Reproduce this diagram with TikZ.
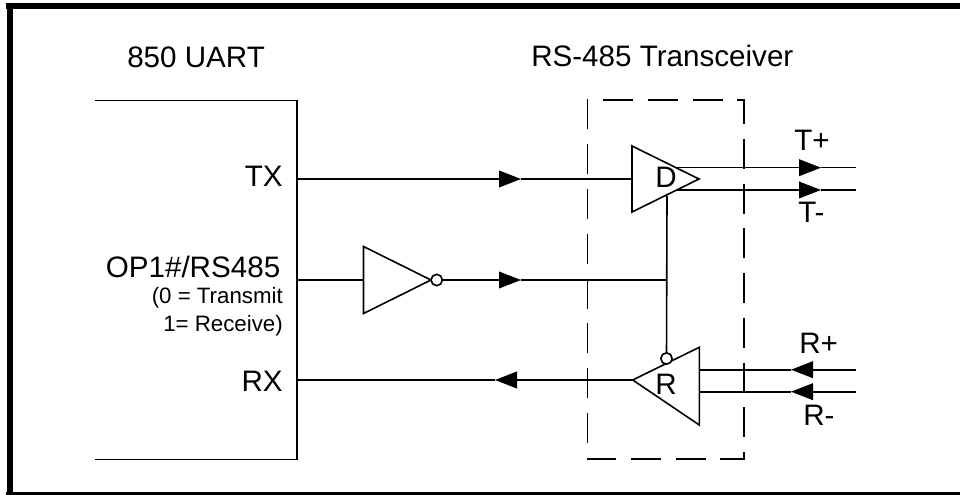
\documentclass[tikz,border=0pt]{standalone}
\usepackage{fontspec}
\setmainfont{Liberation Sans}
\usetikzlibrary{arrows.meta}
\tikzset{
  wire/.style={line width=1.2pt,black,line cap=butt},
  flow/.style={wire,-{Triangle[length=16.5pt,width=12.5pt,fill=black]}},
  gate/.style={wire,line join=miter,fill=white},
  bubble/.style={wire,fill=white,draw,circle,minimum size=8.5pt,inner sep=0pt},
  dashbox/.style={line width=1.2pt,black,dash pattern=on 22.5pt off 11.09pt},
  bigtext/.style={inner sep=0pt,font=\fontsize{22.2pt}{24pt}\selectfont},
  smalltext/.style={inner sep=0pt,font=\fontsize{16.7pt}{19pt}\selectfont}
}
\begin{document}
\begin{tikzpicture}[x=0.75pt,y=-0.75pt]
\useasboundingbox (0,0) rectangle (960,495);
\fill[white] (0,0) rectangle (960,495);
% outer frame
\fill[black] (6,3) rectangle (960,8.8);
\fill[black] (7.3,3) rectangle (12.8,495);
\fill[black] (6,492) rectangle (960,495);
% titles
\node[bigtext,anchor=base west] (titleU) at (127,68) {850 UART};
\node[bigtext,anchor=base west] (titleR) at (531,67) {RS-485 Transceiver};
% UART box
\coordinate (uTL) at (95,100.5);
\coordinate (uTR) at (297,100.5);
\coordinate (uBR) at (297,459.5);
\coordinate (uBL) at (95,459.5);
\draw[wire] (uTL) -- (uTR) -- (uBR) -- (uBL);
% pin labels
\node[bigtext,anchor=base east] (lTX) at (283,187) {TX};
\node[bigtext,anchor=base east] (lOP) at (280.5,278) {OP1\#/RS485};
\node[smalltext,anchor=base east] (lT) at (283,304) {(0 = Transmit};
\node[smalltext,anchor=base east] (lRc) at (283,331) {1= Receive)};
\node[bigtext,anchor=base east] (lRX) at (283,391) {RX};
% ports
\coordinate (txOut) at (297,179);
\coordinate (dIn) at (632,179);
\coordinate (txTip) at (521,179);
\coordinate (opOut) at (297,280);
\coordinate (invIn) at (363.5,280);
\coordinate (invB) at (436.7,280);
\coordinate (opTip) at (521,280);
\coordinate (junc) at (667,280);
\coordinate (dBot) at (667,196);
\coordinate (rB) at (666.5,358.5);
\coordinate (rxIn) at (297,380);
\coordinate (rApex) at (632.7,380);
\coordinate (rxTip) at (495,380);
\coordinate (tpA) at (677,167.7);
\coordinate (tpTip) at (821,167.7);
\coordinate (tpEnd) at (856,167.7);
\coordinate (tmA) at (677,190);
\coordinate (tmTip) at (821,190);
\coordinate (tmEnd) at (856,190);
\coordinate (rpA) at (699.3,369.7);
\coordinate (rpTip) at (791,369.7);
\coordinate (rpEnd) at (856,369.7);
\coordinate (rmA) at (699.3,391.7);
\coordinate (rmTip) at (791,391.7);
\coordinate (rmEnd) at (856,391.7);
% dashed transceiver box
\draw[dashbox] (603,100.3) -- (743.7,100.3) -- (743.7,459) -- (587.3,459) -- (587.3,100.3) -- (603,100.3);
% connectors
\draw[flow] (txOut) -- (txTip);
\draw[wire] (txTip) -- (dIn);
\draw[wire] (opOut) -- (invIn);
\draw[flow] (invB) -- (opTip);
\draw[wire] (opTip) -- (junc);
\draw[wire] (dBot) -- (rB);
\draw[flow] (rApex) -- (rxTip);
\draw[wire] (rxTip) -- (rxIn);
\draw[flow] (tpA) -- (tpTip);
\draw[wire] (tpTip) -- (tpEnd);
\draw[flow] (tmA) -- (tmTip);
\draw[wire] (tmTip) -- (tmEnd);
\draw[flow] (rpEnd) -- (rpTip);
\draw[wire] (rpTip) -- (rpA);
\draw[flow] (rmEnd) -- (rmTip);
\draw[wire] (rmTip) -- (rmA);
% gates
\draw[gate] (363.5,246.5) -- (431,280) -- (363.5,313.5) -- cycle;
\node[bubble] (invBub) at (invB) {};
\draw[wire,line join=miter] (632,146) -- (699,179) -- (632,212) -- cycle;
\draw[wire,line join=miter] (632.7,380) -- (699.3,347.3) -- (699.3,425) -- cycle;
\node[bubble] (rBub) at (rB) {};
\node[bigtext,anchor=base] (lD) at (666,188) {D};
\node[bigtext,anchor=base] (lR) at (666,394) {R};
\node[bigtext,anchor=base west] (lTp) at (794,151) {T+};
\node[bigtext,anchor=base west] (lTm) at (798,223) {T-};
\node[bigtext,anchor=base west] (lRp) at (799,353) {R+};
\node[bigtext,anchor=base west] (lRm) at (803,425) {R-};
\end{tikzpicture}
\end{document}
